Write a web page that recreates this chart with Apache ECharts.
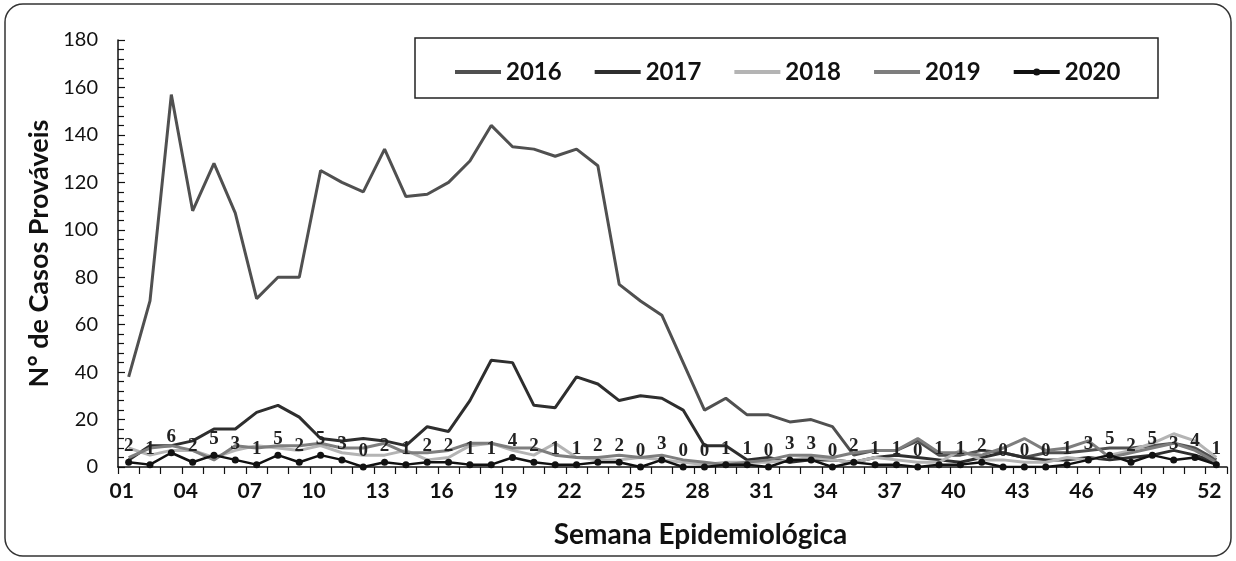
<!DOCTYPE html>
<html>
<head>
<meta charset="utf-8">
<script src="https://cdn.jsdelivr.net/npm/echarts@6/dist/echarts.min.js"></script>
<style>
  html, body { margin: 0; padding: 0; background: #fff; }
  #chart { width: 1236px; height: 561px; }
</style>
</head>
<body>
<div id="chart"></div>
<script>
// semanas epidemiológicas
const semanas = ['01','02','03','04','05','06','07','08','09','10','11','12','13',
  '14','15','16','17','18','19','20','21','22','23','24','25','26',
  '27','28','29','30','31','32','33','34','35','36','37','38','39',
  '40','41','42','43','44','45','46','47','48','49','50','51','52'];

const casos2016 = [38, 70, 157, 108, 128, 107, 71, 80, 80, 125, 120, 116, 134,
  114, 115, 120, 129, 144, 135, 134, 131, 134, 127, 77, 70, 64,
  44, 24, 29, 22, 22, 19, 20, 17, 5, 7, 7, 11, 5, 5, 7, 6, 4,
  6, 6, 7, 8, 8, 9, 10, 8, 3];
const casos2017 = [3, 9, 9, 11, 16, 16, 23, 26, 21, 12, 11, 12, 11,
  9, 17, 15, 28, 45, 44, 26, 25, 38, 35, 28, 30, 29,
  24, 9, 9, 3, 4, 2, 3, 3, 2, 4, 5, 4, 3, 2, 4, 6, 4,
  3, 3, 4, 3, 4, 5, 7, 5, 2];
const casos2018 = [8, 5, 7, 7, 4, 7, 9, 8, 7, 9, 6, 5, 5,
  7, 3, 4, 9, 10, 7, 5, 10, 4, 3, 3, 4, 3,
  2, 1, 2, 2, 2, 3, 4, 3, 2, 4, 3, 2, 2, 7, 3, 3, 2,
  2, 4, 3, 5, 7, 10, 14, 11, 4];
const casos2019 = [4, 8, 9, 7, 3, 9, 8, 9, 9, 10, 8, 8, 10,
  6, 6, 7, 10, 10, 8, 8, 5, 4, 4, 5, 4, 5,
  3, 2, 1, 2, 3, 5, 5, 4, 6, 7, 7, 12, 6, 6, 5, 8, 12,
  7, 8, 11, 4, 6, 8, 10, 7, 2];
const casos2020 = [2, 1, 6, 2, 5, 3, 1, 5, 2, 5, 3, 0, 2,
  1, 2, 2, 1, 1, 4, 2, 1, 1, 2, 2, 0, 3,
  0, 0, 1, 1, 0, 3, 3, 0, 2, 1, 1, 0, 1, 1, 2, 0, 0,
  0, 1, 3, 5, 2, 5, 3, 4, 1];

const chart = echarts.init(document.getElementById('chart'));

// sem marcador na legenda: só a linha
const soLinha = { opacity: 0 };

function linha(nome, dados, cor) {
  return {
    name: nome,
    type: 'line',
    data: dados,
    symbol: 'none',
    lineStyle: { color: cor, width: 3 },
    itemStyle: { color: cor },
    animation: false
  };
}

chart.setOption({
  backgroundColor: '#fff',
  animation: false,
  graphic: [
    {
      type: 'rect',
      z: -10,
      shape: { x: 5, y: 4, width: 1226, height: 552, r: 18 },
      style: { fill: 'none', stroke: '#333', lineWidth: 1.5 }
    },
    {
      type: 'rect',
      z: -5,
      shape: { x: 415, y: 38, width: 743, height: 60 },
      style: { fill: '#fff', stroke: '#222', lineWidth: 1.5 }
    }
  ],
  legend: {
    left: 448,
    top: 55,
    itemWidth: 46,
    itemHeight: 9,
    itemGap: 31,
    data: [
      { name: '2016', itemStyle: soLinha },
      { name: '2017', itemStyle: soLinha },
      { name: '2018', itemStyle: soLinha },
      { name: '2019', itemStyle: soLinha },
      { name: '2020' }
    ],
    lineStyle: { width: 4 },
    textStyle: { fontFamily: 'Lato', fontWeight: 'bold', fontSize: 24, color: '#111' }
  },
  grid: { left: 118, right: 9, top: 40, bottom: 94 },
  xAxis: {
    type: 'category',
    data: semanas,
    boundaryGap: true,
    name: 'Semana Epidemiológica',
    nameLocation: 'middle',
    nameGap: 54,
    nameTextStyle: { fontFamily: 'Lato', fontWeight: 'bold', fontSize: 28, color: '#111', padding: [0, 0, 0, 56] },
    axisLine: { lineStyle: { color: '#111', width: 1.5 } },
    axisTick: { show: true, interval: 0, length: 7, lineStyle: { color: '#111', width: 1.2 } },
    axisLabel: {
      interval: 2, margin: 14, fontFamily: 'Lato', fontWeight: 'bold', fontSize: 21, color: '#111',
      align: 'center', alignMinLabel: 'center', alignMaxLabel: 'center', padding: [0, 14, 0, 0]
    },
    splitLine: { show: false }
  },
  yAxis: {
    type: 'value',
    min: 0,
    max: 180,
    interval: 20,
    name: 'N° de Casos Prováveis',
    nameLocation: 'middle',
    nameGap: 64,
    nameTextStyle: { fontFamily: 'Lato', fontWeight: 'bold', fontSize: 27, color: '#111' },
    axisLine: { show: true, lineStyle: { color: '#111', width: 1.5 } },
    axisTick: { show: true, inside: true, length: 7, lineStyle: { color: '#111', width: 1.2 } },
    minorTick: { show: true, splitNumber: 5, length: 6, lineStyle: { color: '#111', width: 1.2 } },
    axisLabel: { margin: 20, fontFamily: 'Lato', fontSize: 20, color: '#111' },
    splitLine: { show: false }
  },
  series: [
    linha('2016', casos2016, '#505050'),
    linha('2017', casos2017, '#2e2e2e'),
    linha('2018', casos2018, '#b4b4b4'),
    linha('2019', casos2019, '#7e7e7e'),
    {
      name: '2020',
      type: 'line',
      data: casos2020,
      symbol: 'circle',
      symbolSize: 7,
      lineStyle: { color: '#111', width: 2.5 },
      itemStyle: { color: '#111' },
      z: 5,
      label: {
        show: true,
        position: 'top',
        distance: 3,
        fontFamily: 'Liberation Serif',
        fontWeight: 'bold',
        fontSize: 19,
        color: '#222'
      },
      animation: false
    }
  ]
});
</script>
</body>
</html>
